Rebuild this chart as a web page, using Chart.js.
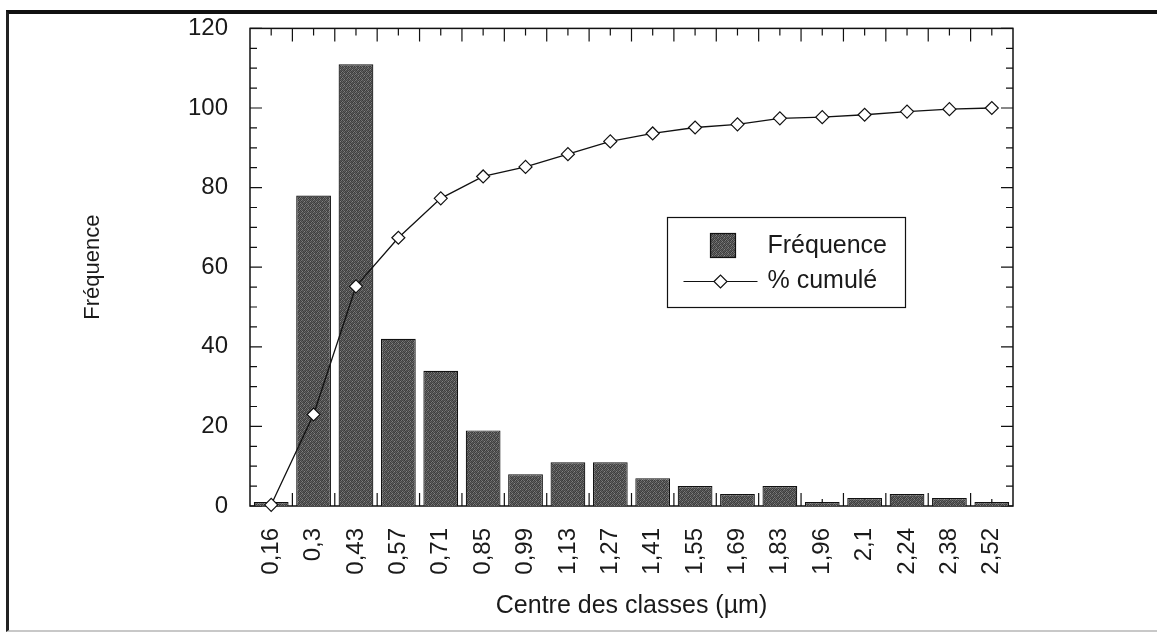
<!DOCTYPE html>
<html>
<head>
<meta charset="utf-8">
<script src="https://cdn.jsdelivr.net/npm/chart.js@4.4.1/dist/chart.umd.min.js"></script>
<style>
  html, body { margin: 0; padding: 0; background: #fff; }
  #page { position: relative; width: 1157px; height: 633px; overflow: hidden; }
  #frame {
    position: absolute; left: 6px; top: 10px; right: -10px; bottom: 1px;
    border-top: 4px solid #111; border-left: 3px solid #222; border-bottom: 2px solid #c8c8c8;
  }
  #chart { position: absolute; left: 0; top: 0; }
</style>
</head>
<body>
<div id="page">
  <div id="frame"></div>
  <canvas id="chart" width="1157" height="633"></canvas>
</div>
<script>
// Centres des classes (axe X)
const categories = ['0,16', '0,3', '0,43', '0,57', '0,71', '0,85', '0,99', '1,13', '1,27',
  '1,41', '1,55', '1,69', '1,83', '1,96', '2,1', '2,24', '2,38', '2,52'];
// Fréquence de chaque classe
const frequence = [1, 78, 111, 42, 34, 19, 8, 11, 11, 7, 5, 3, 5, 1, 2, 3, 2, 1];
// Pourcentage cumulé
const cumule = [0.3, 23, 55.2, 67.4, 77.3, 82.8, 85.2, 88.4, 91.6, 93.6, 95.1, 95.9, 97.4, 97.7,
  98.3, 99.1, 99.7, 100];
// Graduations de l'axe Y
const yMin = 0, yMax = 120, yStep = 20, yMinorStep = 5;

const FONT = "'Liberation Sans', Arial, Helvetica, sans-serif";

// Motif gris foncé tramé pour les barres (trame irrégulière)
function makePattern() {
  const grid = [
    '3a', '6e', '45', '52', '3a', '7a',
    '58', '40', '82', '3c', '66', '48',
    '42', '74', '4c', '5e', '40', '60',
    '6a', '3e', '58', '44', '86', '3e',
    '46', '5c', '3a', '70', '4a', '54',
    '7c', '44', '66', '40', '56', '3c'
  ];
  const c = document.createElement('canvas');
  c.width = 6; c.height = 6;
  const g = c.getContext('2d');
  grid.forEach((h, i) => {
    g.fillStyle = '#' + h + h + h;
    g.fillRect(i % 6, Math.floor(i / 6), 1, 1);
  });
  return g.createPattern(c, 'repeat');
}
const barPattern = makePattern();

// Graduations intérieures + cadre du graphique
const ticksPlugin = {
  id: 'ticksPlugin',
  beforeDatasetsDraw(chart) {
    const { ctx, chartArea: a, scales: { x, y } } = chart;
    ctx.save();
    ctx.strokeStyle = '#111';
    ctx.lineWidth = 1.2;
    ctx.beginPath();
    for (let i = 0; i < categories.length; i++) {
      const px = x.getPixelForValue(i);
      ctx.moveTo(px, a.top); ctx.lineTo(px, a.top + 7);
      ctx.moveTo(px, a.bottom); ctx.lineTo(px, a.bottom - 7);
    }
    for (let i = 1; i < categories.length; i++) {
      const px = (x.getPixelForValue(i - 1) + x.getPixelForValue(i)) / 2;
      ctx.moveTo(px, a.top); ctx.lineTo(px, a.top + 13);
      ctx.moveTo(px, a.bottom); ctx.lineTo(px, a.bottom - 13);
    }
    for (let v = yMin; v <= yMax; v += yMinorStep) {
      const py = y.getPixelForValue(v);
      const len = v % yStep === 0 ? 12 : 7;
      ctx.moveTo(a.left, py); ctx.lineTo(a.left + len, py);
      ctx.moveTo(a.right, py); ctx.lineTo(a.right - len, py);
    }
    ctx.stroke();
    ctx.lineWidth = 1.5;
    ctx.strokeRect(a.left, a.top, a.width, a.height);
    ctx.restore();
  }
};

// Légende encadrée à l'intérieur du graphique
const legendPlugin = {
  id: 'legendPlugin',
  afterDatasetsDraw(chart) {
    const { ctx, chartArea: a } = chart;
    const ds = chart.data.datasets;
    const bx = Math.round(a.left + a.width * 0.5465) + 0.5;
    const by = Math.round(a.top + a.height * 0.395) + 0.5;
    const bw = 238, bh = 90;
    ctx.save();
    ctx.fillStyle = '#fff';
    ctx.fillRect(bx, by, bw, bh);
    ctx.strokeStyle = '#111';
    ctx.lineWidth = 1.2;
    ctx.strokeRect(bx, by, bw, bh);

    // carré de la série barres
    ctx.fillStyle = barPattern;
    ctx.fillRect(bx + 43, by + 16, 25, 24);
    ctx.strokeRect(bx + 43, by + 16, 25, 24);

    // ligne + losange
    const ly = by + 64;
    ctx.beginPath();
    ctx.moveTo(bx + 16, ly); ctx.lineTo(bx + 90, ly);
    ctx.stroke();
    const cx = bx + 53, r = 6.5;
    ctx.beginPath();
    ctx.moveTo(cx - r, ly); ctx.lineTo(cx, ly - r); ctx.lineTo(cx + r, ly); ctx.lineTo(cx, ly + r);
    ctx.closePath();
    ctx.fillStyle = '#fff';
    ctx.fill();
    ctx.stroke();

    ctx.fillStyle = '#1a1a1a';
    ctx.font = '25px ' + FONT;
    ctx.textBaseline = 'middle';
    ctx.textAlign = 'left';
    ctx.fillText(ds[1].label, bx + 100, by + 29);
    ctx.fillText(ds[0].label, bx + 100, ly);
    ctx.restore();
  }
};

const ctx = document.getElementById('chart').getContext('2d');
new Chart(ctx, {
  data: {
    labels: categories,
    datasets: [
      {
        type: 'line',
        label: '% cumulé',
        data: cumule,
        order: 0,
        borderColor: '#111',
        borderWidth: 1.3,
        tension: 0,
        pointStyle: 'rectRot',
        pointRadius: 6.5,
        pointBackgroundColor: '#fff',
        pointBorderColor: '#111',
        pointBorderWidth: 1.2,
        clip: false
      },
      {
        type: 'bar',
        label: 'Fréquence',
        data: frequence,
        order: 1,
        backgroundColor: barPattern,
        borderColor: '#111',
        borderWidth: 1.2,
        barPercentage: 0.82,
        categoryPercentage: 1
      }
    ]
  },
  options: {
    responsive: false,
    animation: false,
    layout: { padding: { top: 28, right: 144, left: 0, bottom: 0 } },
    plugins: {
      legend: { display: false },
      tooltip: { enabled: false }
    },
    scales: {
      x: {
        type: 'category',
        offset: true,
        grid: { display: false },
        border: { display: false },
        ticks: {
          autoSkip: false,
          minRotation: 90,
          maxRotation: 90,
          padding: 14,
          color: '#1a1a1a',
          font: { family: FONT, size: 24 }
        },
        title: {
          display: true,
          text: 'Centre des classes (µm)',
          color: '#1a1a1a',
          font: { family: FONT, size: 25 },
          padding: { top: 0, bottom: 12 }
        },
        afterFit(scale) { scale.height = 127; }
      },
      y: {
        min: yMin,
        max: yMax,
        grid: { display: false },
        border: { display: false },
        ticks: {
          stepSize: yStep,
          padding: 14,
          color: '#1a1a1a',
          font: { family: FONT, size: 24 }
        },
        title: {
          display: true,
          text: 'Fréquence',
          color: '#1a1a1a',
          font: { family: FONT, size: 22 },
          padding: { top: 80, bottom: 0 }
        },
        afterFit(scale) { scale.width = 250; }
      }
    }
  },
  plugins: [ticksPlugin, legendPlugin]
});
</script>
</body>
</html>
